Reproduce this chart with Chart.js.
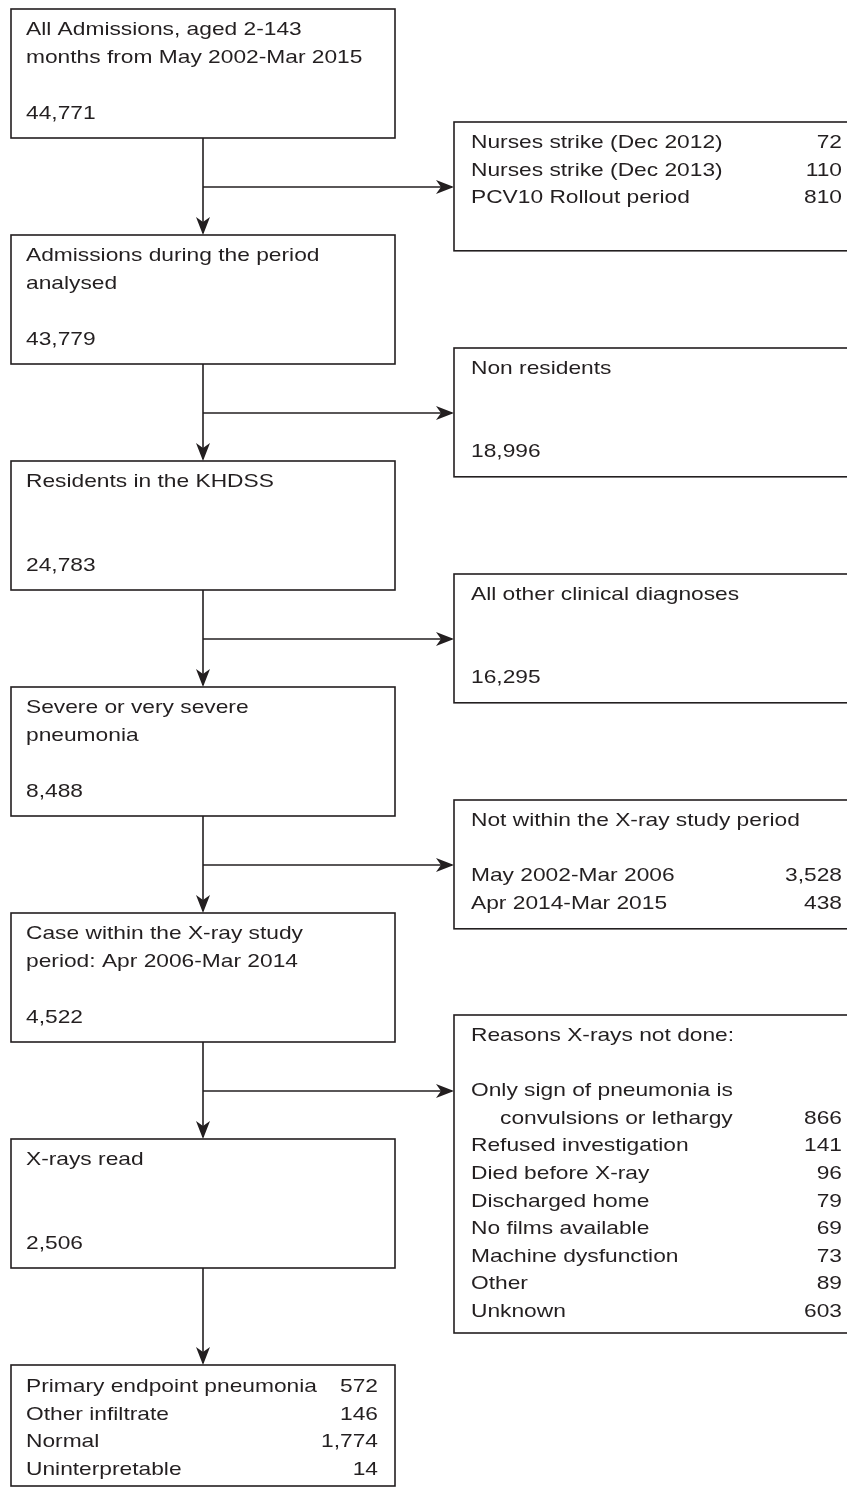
<!DOCTYPE html>
<html>
<head>
<meta charset="utf-8">
<script src="https://cdn.jsdelivr.net/npm/chart.js@4/dist/chart.umd.min.js"></script>
<style>
  html, body { margin: 0; padding: 0; background: #fff; }
  #flow { display: block; }
</style>
</head>
<body>
<canvas id="flow" width="847" height="1488"></canvas>
<script>
// main column: what is left after each step
var mainLabels = [
  ["All Admissions, aged 2-143", "months from May 2002-Mar 2015"],
  ["Admissions during the period", "analysed"],
  ["Residents in the KHDSS"],
  ["Severe or very severe", "pneumonia"],
  ["Case within the X-ray study", "period: Apr 2006-Mar 2014"],
  ["X-rays read"]
];
var mainCounts = [44771, 43779, 24783, 8488, 4522, 2506];

// side boxes: what got dropped at each step
var exclHeads = ["", "Non residents", "All other clinical diagnoses", "Not within the X-ray study period", "Reasons X-rays not done:"];
var exclTotals = [null, 18996, 16295, null, null];
var exclItemLabels = [
  ["Nurses strike (Dec 2012)", "Nurses strike (Dec 2013)", "PCV10 Rollout period"],
  [],
  [],
  ["May 2002-Mar 2006", "Apr 2014-Mar 2015"],
  [["Only sign of pneumonia is", "convulsions or lethargy"], "Refused investigation", "Died before X-ray",
   "Discharged home", "No films available", "Machine dysfunction", "Other", "Unknown"]
];
var exclItemValues = [
  [72, 110, 810],
  [],
  [],
  [3528, 438],
  [866, 141, 96, 79, 69, 73, 89, 603]
];

// final x-ray reading results
var resultLabels = ["Primary endpoint pneumonia", "Other infiltrate", "Normal", "Uninterpretable"];
var resultValues = [572, 146, 1774, 14];

// layout (px units on the hidden scales)
var L = {
  leftX: 11, leftW: 384, stemX: 203,
  rightX: 454, rightEnd: 852,
  firstTop: 9, step: 226, boxH: 129,
  branchOff: 178, rightOff: 113,
  pitch: 27.6, firstBase: 26, padL: 15, padR: 17,
  leftNumRight: 378, rightNumRight: 842, indent: 29,
  lastBottom: 1486
};
var SX = 1.23;
var INK = "#231f20";
var FONT = '18.5px "Liberation Sans", Arial, Helvetica, sans-serif';

function fmt(n) { return n.toLocaleString("en-US"); }

function txt(ctx, s, x, y, align) {
  ctx.save();
  ctx.translate(x, y);
  ctx.scale(SX, 1);
  ctx.textAlign = align || "left";
  ctx.fillText(s, 0, 0);
  ctx.restore();
}

function arrowHead(ctx, x, y, dir) {
  // dir: "down" or "right", tip at x,y
  var len = 18, half = 7, notch = 5;
  ctx.beginPath();
  if (dir === "down") {
    ctx.moveTo(x, y);
    ctx.lineTo(x - half, y - len);
    ctx.lineTo(x, y - len + notch);
    ctx.lineTo(x + half, y - len);
  } else {
    ctx.moveTo(x, y);
    ctx.lineTo(x - len, y - half);
    ctx.lineTo(x - len + notch, y);
    ctx.lineTo(x - len, y + half);
  }
  ctx.closePath();
  ctx.fill();
}

var flowPlugin = {
  id: "flow",
  afterDraw: function (chart) {
    var ctx = chart.ctx;
    var xs = chart.scales.x, ys = chart.scales.y;
    var px = function (v) { return xs.getPixelForValue(v); };
    var py = function (v) { return ys.getPixelForValue(v); };

    ctx.save();
    ctx.strokeStyle = INK;
    ctx.fillStyle = INK;
    ctx.lineWidth = 1.6;
    ctx.font = FONT;
    ctx.textBaseline = "alphabetic";

    var nMain = mainLabels.length + 1;
    for (var i = 0; i < nMain; i++) {
      var top = L.firstTop + i * L.step;
      var bottom = i < nMain - 1 ? top + L.boxH : L.lastBottom;
      ctx.strokeRect(px(L.leftX), py(top), px(L.leftX + L.leftW) - px(L.leftX), py(bottom) - py(top));

      if (i < mainLabels.length) {
        mainLabels[i].forEach(function (s, k) {
          txt(ctx, s, px(L.leftX + L.padL), py(top + L.firstBase + k * L.pitch));
        });
        txt(ctx, fmt(mainCounts[i]), px(L.leftX + L.padL), py(top + L.firstBase + 3 * L.pitch + 1));
      } else {
        resultLabels.forEach(function (s, k) {
          var yb = py(top + L.firstBase + 1 + k * L.pitch);
          txt(ctx, s, px(L.leftX + L.padL), yb);
          txt(ctx, fmt(resultValues[k]), px(L.leftNumRight), yb, "right");
        });
      }

      if (i < nMain - 1) {
        var nextTop = top + L.step;
        // stem
        ctx.beginPath();
        ctx.moveTo(px(L.stemX), py(bottom));
        ctx.lineTo(px(L.stemX), py(nextTop) - 2);
        ctx.stroke();
        arrowHead(ctx, px(L.stemX), py(nextTop), "down");

        if (i < exclHeads.length) {
          var by = top + L.branchOff;
          ctx.beginPath();
          ctx.moveTo(px(L.stemX), py(by));
          ctx.lineTo(px(L.rightX) - 2, py(by));
          ctx.stroke();
          arrowHead(ctx, px(L.rightX), py(by), "right");

          // side box
          var lines = [];
          if (exclHeads[i]) lines.push({ t: exclHeads[i] });
          if (exclTotals[i] !== null) {
            while (lines.length < 3) lines.push(null);
            lines.push({ t: fmt(exclTotals[i]) });
          } else {
            if (lines.length) lines.push(null);
            exclItemLabels[i].forEach(function (lab, k) {
              if (Array.isArray(lab)) {
                lines.push({ t: lab[0] });
                lines.push({ t: lab[1], ind: true, v: exclItemValues[i][k] });
              } else {
                lines.push({ t: lab, v: exclItemValues[i][k] });
              }
            });
          }
          var nl = Math.max(lines.length, 4);
          var rh = L.firstBase + (nl - 1) * L.pitch + 20;
          var rtop = nl > 4 ? by - 76 : top + L.rightOff;
          if (nl > 4) rh = rh - 4;
          ctx.strokeRect(px(L.rightX), py(rtop), px(L.rightEnd) - px(L.rightX), py(rtop + rh) - py(rtop));
          lines.forEach(function (ln, k) {
            if (!ln) return;
            var yb = py(rtop + L.firstBase + k * L.pitch);
            txt(ctx, ln.t, px(L.rightX + L.padR + (ln.ind ? L.indent : 0)), yb);
            if (ln.v !== undefined) txt(ctx, fmt(ln.v), px(L.rightNumRight), yb, "right");
          });
        }
      }
    }
    ctx.restore();
  }
};

var myChart = new Chart(document.getElementById("flow"), {
  type: "scatter",
  data: { datasets: [{ data: [], pointRadius: 0 }] },
  options: {
    responsive: false,
    animation: false,
    devicePixelRatio: 1,
    events: [],
    layout: { padding: 0 },
    plugins: { legend: { display: false }, tooltip: { enabled: false } },
    scales: {
      x: { type: "linear", min: 0, max: 847, display: false },
      y: { type: "linear", min: 0, max: 1488, reverse: true, display: false }
    }
  },
  plugins: [flowPlugin]
});
</script>
</body>
</html>
